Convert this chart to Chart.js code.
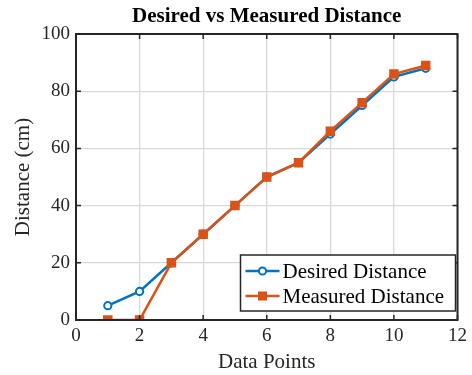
<!DOCTYPE html>
<html>
<head>
<meta charset="utf-8">
<script src="https://cdn.jsdelivr.net/npm/chart.js@4"></script>
<style>
  html, body { margin: 0; padding: 0; background: #fff; }
</style>
</head>
<body>
<canvas id="chart" width="472" height="375"></canvas>
<script>
const dataPoints = [1, 2, 3, 4, 5, 6, 7, 8, 9, 10, 11];
const desired = [5, 10, 20, 30, 40, 50, 55, 65, 75, 85, 88];
const measured = [0, 0, 20, 30, 40, 50, 55, 66, 76, 86, 89];
const seriesNames = ["Desired Distance", "Measured Distance"];
const chartTitle = "Desired vs Measured Distance";

const BLUE = "#0072BD";
const ORANGE = "#D95319";
const AXIS = "#262626";
const FONT = "'Liberation Serif', 'Times New Roman', serif";

function toXY(ys) {
    return ys.map((y, i) => ({ x: dataPoints[i], y: y }));
}

// box, inward ticks, title and legend like the matlab figure
const matlabDecor = {
    id: "matlabDecor",
    afterDraw(chart) {
        const ctx = chart.ctx;
        const a = chart.chartArea;
        const xs = chart.scales.x, ys = chart.scales.y;
        ctx.save();

        ctx.strokeStyle = AXIS;
        ctx.lineWidth = 2;
        ctx.strokeRect(a.left, a.top, a.right - a.left, a.bottom - a.top);

        ctx.lineWidth = 1.5;
        const t = 5;
        ctx.beginPath();
        xs.ticks.forEach(tk => {
            const px = xs.getPixelForValue(tk.value);
            ctx.moveTo(px, a.bottom); ctx.lineTo(px, a.bottom - t);
            ctx.moveTo(px, a.top); ctx.lineTo(px, a.top + t);
        });
        ys.ticks.forEach(tk => {
            const py = ys.getPixelForValue(tk.value);
            ctx.moveTo(a.left, py); ctx.lineTo(a.left + t, py);
            ctx.moveTo(a.right, py); ctx.lineTo(a.right - t, py);
        });
        ctx.stroke();

        // title
        ctx.fillStyle = "#000";
        ctx.font = "bold 21px " + FONT;
        ctx.textAlign = "center";
        ctx.textBaseline = "middle";
        ctx.fillText(chartTitle, (a.left + a.right) / 2, 17);

        // legend in lower right corner
        const lx = a.right - 217, ly = a.bottom - 65, lw = 215, lh = 56;
        ctx.fillStyle = "#fff";
        ctx.fillRect(lx, ly, lw, lh);
        ctx.strokeStyle = AXIS;
        ctx.lineWidth = 1.5;
        ctx.strokeRect(lx, ly, lw, lh);
        ctx.font = "21px " + FONT;
        ctx.textAlign = "left";
        chart.data.datasets.forEach((ds, i) => {
            const cy = ly + 16 + i * 25;
            ctx.strokeStyle = ds.borderColor;
            ctx.lineWidth = 2.5;
            ctx.beginPath();
            ctx.moveTo(lx + 5, cy); ctx.lineTo(lx + 39, cy);
            ctx.stroke();
            const cx = lx + 22;
            if (ds.pointStyle === "circle") {
                ctx.beginPath();
                ctx.arc(cx, cy, ds.pointRadius, 0, Math.PI * 2);
                ctx.fillStyle = ds.pointBackgroundColor;
                ctx.fill();
                ctx.lineWidth = ds.pointBorderWidth;
                ctx.stroke();
            } else {
                ctx.fillStyle = ds.pointBackgroundColor;
                ctx.fillRect(cx - 4.5, cy - 4.5, 9, 9);
            }
            ctx.fillStyle = "#000";
            ctx.fillText(ds.label, lx + 42, cy + 1);
        });
        ctx.restore();
    }
};

new Chart(document.getElementById("chart").getContext("2d"), {
    type: "line",
    data: {
        datasets: [
            {
                label: seriesNames[0],
                data: toXY(desired),
                borderColor: BLUE,
                borderWidth: 2.5,
                pointStyle: "circle",
                pointRadius: 3.6,
                pointBorderWidth: 2,
                pointBackgroundColor: "#fff",
                pointBorderColor: BLUE,
                order: 2
            },
            {
                label: seriesNames[1],
                data: toXY(measured),
                borderColor: ORANGE,
                borderWidth: 2.5,
                pointStyle: "rect",
                pointRadius: 6.7,
                pointBorderWidth: 0,
                pointBackgroundColor: ORANGE,
                pointBorderColor: ORANGE,
                order: 1
            }
        ]
    },
    options: {
        responsive: false,
        animation: false,
        layout: { padding: { top: 34, right: 12, left: 0, bottom: 0 } },
        plugins: {
            legend: { display: false },
            title: { display: false },
            tooltip: { enabled: false }
        },
        scales: {
            x: {
                type: "linear",
                min: 0, max: 12,
                afterFit(scale) { scale.height = 55; },
                ticks: { stepSize: 2, color: AXIS, padding: 5, font: { family: FONT, size: 19 } },
                grid: { color: "#d9d9d9", lineWidth: 1.3, drawTicks: false },
                border: { display: false },
                title: { display: true, text: "Data Points", color: AXIS, padding: { top: 0, bottom: 0 }, font: { family: FONT, size: 21 } }
            },
            y: {
                min: 0, max: 100,
                afterFit(scale) { scale.width = 76; },
                ticks: { stepSize: 20, color: AXIS, padding: 6, font: { family: FONT, size: 19 } },
                grid: { color: "#d9d9d9", lineWidth: 1.3, drawTicks: false },
                border: { display: false },
                title: { display: true, text: "Distance (cm)", color: AXIS, padding: { top: 11, bottom: 0 }, font: { family: FONT, size: 21 } }
            }
        }
    },
    plugins: [matlabDecor]
});
</script>
</body>
</html>
